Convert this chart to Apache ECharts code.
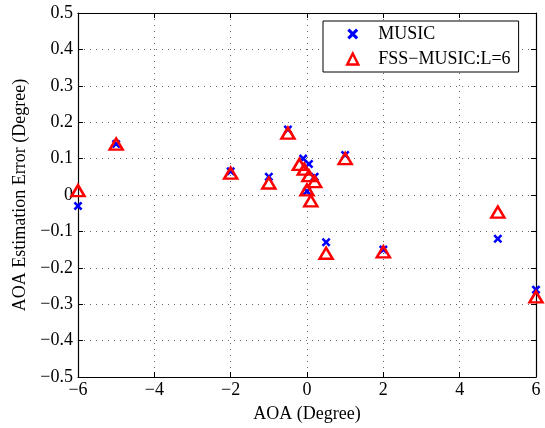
<!DOCTYPE html>
<html>
<head>
<meta charset="utf-8">
<script src="https://cdn.jsdelivr.net/npm/echarts@6/dist/echarts.min.js"></script>
<style>
	html, body { margin: 0; padding: 0; background: #fff; }
	#chart { width: 545px; height: 428px; }
</style>
</head>
<body>
<div id="chart"></div>
<script>
/* 數據 */
const musicX = [-6, -5, -2, -1, -0.5, -0.1, 0.05, 0.2, 0, 0.5, 1, 2, 5, 6];
const musicY = [-0.03, 0.14, 0.065, 0.05, 0.18, 0.1, 0.085, 0.05, 0.01, -0.13, 0.11, -0.15, -0.12, -0.26];
const fssX = [-6, -5, -2, -1, -0.5, -0.2, -0.07, 0.05, 0.2, 0, 0.1, 0.5, 1, 2, 5, 6];
const fssY = [0.012, 0.14, 0.06, 0.033, 0.17, 0.084, 0.071, 0.053, 0.037, 0.014, -0.016, -0.16, 0.1, -0.156, -0.047, -0.28];
const seriesNames = ["MUSIC", "FSS\u2212MUSIC:L=6"];
const xTicks = { min: -6, max: 6, step: 2 };
const yTicks = { min: -0.5, max: 0.5, step: 0.1 };

const font = "Liberation Serif, Times New Roman, serif";
const minus = (s) => s.replace("-", "\u2212");
const crossPath = "path://M2,0 L5,3 L8,0 L10,2 L7,5 L10,8 L8,10 L5,7 L2,10 L0,8 L3,5 L0,2 Z";

const chart = echarts.init(document.getElementById("chart"));
const grid = { left: 78, right: 9, top: 13, bottom: 48 };

const gridLine = {
	show: true,
	lineStyle: { color: "#666", width: 1, type: [1, 5] },
};
const tick = { show: true, inside: true, length: 5, lineStyle: { color: "#000" } };
const axisLine = { show: true, onZero: false, lineStyle: { color: "#000", width: 1.2 } };

chart.setOption({
	animation: false,
	backgroundColor: "#fff",
	grid: grid,
	legend: {
		orient: "vertical",
		left: 323,
		top: 21,
		padding: [4, 8, 4, 23],
		itemGap: 7,
		itemWidth: 11,
		itemHeight: 11,
		width: 174,
		backgroundColor: "#fff",
		borderColor: "#000",
		borderWidth: 1,
		textStyle: { fontFamily: font, fontSize: 18, color: "#000", padding: [0, 0, 0, 15], width: 146 },
		data: [
			{ name: seriesNames[0], icon: crossPath, itemStyle: { color: "#0000ff" } },
			{ name: seriesNames[1], icon: "triangle", itemStyle: { color: "transparent", borderColor: "#ff0000", borderWidth: 2.5 } },
		],
	},
	xAxis: [
		{
			type: "value",
			min: xTicks.min,
			max: xTicks.max,
			interval: xTicks.step,
			name: "AOA (Degree)",
			nameLocation: "middle",
			nameGap: 28,
			nameTextStyle: { fontFamily: font, fontSize: 18, color: "#000" },
			axisLine: axisLine,
			axisTick: tick,
			splitLine: gridLine,
			axisLabel: {
				fontFamily: font,
				fontSize: 18,
				color: "#000",
				margin: 4,
				formatter: (v) => minus(String(v)),
			},
		},
		{
			type: "value",
			position: "top",
			min: xTicks.min,
			max: xTicks.max,
			interval: xTicks.step,
			axisLine: axisLine,
			axisTick: tick,
			axisLabel: { show: false },
			splitLine: { show: false },
		},
	],
	yAxis: [
		{
			type: "value",
			min: yTicks.min,
			max: yTicks.max,
			interval: yTicks.step,
			name: "AOA Estimation Error (Degree)",
			nameLocation: "middle",
			nameGap: 44,
			nameTextStyle: { fontFamily: font, fontSize: 18, color: "#000" },
			axisLine: axisLine,
			axisTick: tick,
			splitLine: gridLine,
			axisLabel: {
				fontFamily: font,
				fontSize: 18,
				color: "#000",
				margin: 5,
				formatter: (v) => (Math.abs(v) < 1e-9 ? "0" : minus(v.toFixed(1))),
			},
		},
		{
			type: "value",
			position: "right",
			min: yTicks.min,
			max: yTicks.max,
			interval: yTicks.step,
			axisLine: axisLine,
			axisTick: tick,
			axisLabel: { show: false },
			splitLine: { show: false },
		},
	],
	series: [
		{
			name: seriesNames[0],
			type: "scatter",
			clip: false,
			symbol: crossPath,
			symbolSize: 9,
			itemStyle: { color: "#0000ff", opacity: 1 },
			data: musicX.map((x, i) => [x, musicY[i]]),
			z: 2,
		},
		{
			name: seriesNames[1],
			type: "scatter",
			clip: false,
			symbol: "triangle",
			symbolSize: [13, 11],
			itemStyle: { color: "transparent", borderColor: "#ff0000", borderWidth: 2.5, opacity: 1 },
			data: fssX.map((x, i) => [x, fssY[i]]),
			z: 3,
		},
	],
});
</script>
</body>
</html>
